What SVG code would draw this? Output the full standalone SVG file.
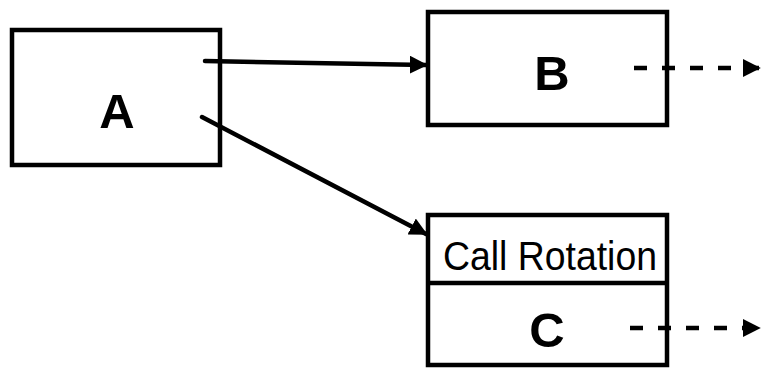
<svg xmlns="http://www.w3.org/2000/svg" width="761" height="375" viewBox="0 0 761 375">
<style>
.box{fill:#fff;stroke:#000;stroke-width:4.5}
.lbl{font-family:"Liberation Sans",Arial,sans-serif;font-weight:bold;font-size:49px;text-anchor:middle}
.sub{font-family:"Liberation Sans",Arial,sans-serif;font-size:40px}
.con{stroke:#000;stroke-width:4.5;fill:none;stroke-linecap:round}
.dash{stroke:#000;stroke-width:4.5;fill:none;stroke-dasharray:13 15}
</style>
<defs>
<marker id="ah" viewBox="0 0 10 10" refX="9" refY="5" markerWidth="4" markerHeight="4" orient="auto" markerUnits="strokeWidth">
<path d="M0,0 L10,5 L0,10 Z" fill="#000"/>
</marker>
</defs>
<rect width="761" height="375" fill="#fff"/>
<g id="nodeA">
<rect class="box" x="12" y="30" width="208" height="135"/>
<text class="lbl" x="117" y="128">A</text>
</g>
<g id="nodeB">
<rect class="box" x="428" y="12" width="239" height="113"/>
<text class="lbl" x="552" y="90">B</text>
</g>
<g id="nodeC">
<rect class="box" x="428" y="215" width="239" height="150"/>
<line x1="428" y1="283" x2="667" y2="283" stroke="#000" stroke-width="4.5"/>
<text class="sub" x="443" y="270" textLength="214" lengthAdjust="spacingAndGlyphs">Call Rotation</text>
<text class="lbl" x="547" y="347">C</text>
</g>
<g id="connectors">
<line class="con" x1="205" y1="61" x2="426" y2="65" marker-end="url(#ah)"/>
<line class="con" x1="202" y1="117" x2="426" y2="234" marker-end="url(#ah)"/>
<line class="dash" x1="634" y1="68" x2="759" y2="68" marker-end="url(#ah)"/>
<line class="dash" x1="630" y1="328" x2="759" y2="328" marker-end="url(#ah)"/>
</g>
</svg>
